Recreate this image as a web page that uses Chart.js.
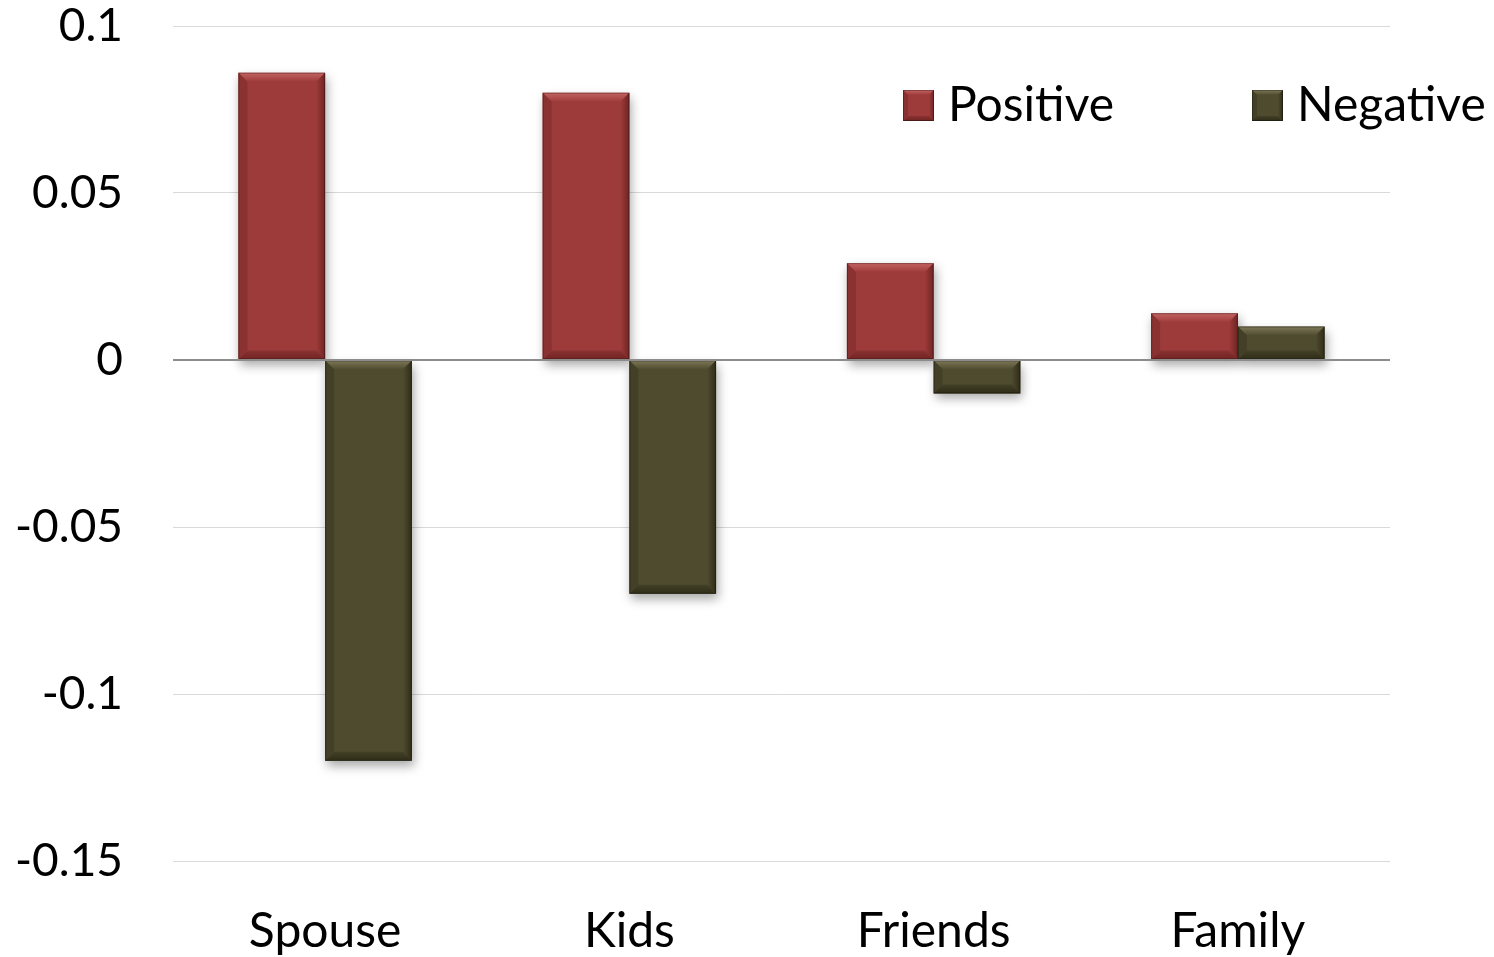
<!DOCTYPE html>
<html>
<head>
<meta charset="utf-8">
<script src="https://cdn.jsdelivr.net/npm/chart.js@4/dist/chart.umd.min.js"></script>
<style>
  html, body { margin: 0; padding: 0; background: #fff; }
  #wrap { width: 1494px; height: 957px; }
</style>
</head>
<body>
<div id="wrap"><canvas id="c" width="1494" height="957"></canvas></div>
<script>
const categories = ['Spouse', 'Kids', 'Friends', 'Family'];
const positiveValues = [0.086, 0.080, 0.029, 0.014];
const negativeValues = [-0.120, -0.070, -0.010, 0.010];
const yTickValues = [-0.15, -0.1, -0.05, 0, 0.05, 0.1];
const yTickLabels = ['-0.15', '-0.1', '-0.05', '0', '0.05', '0.1'];

const FONT = 'Lato, "Open Sans", sans-serif';
const palette = {
  Positive: { base: '#9d3b3a', light: '#c46462', dark: '#6f2423', side: '#8a3231' },
  Negative: { base: '#4f4b2f', light: '#7d7857', dark: '#2f2c18', side: '#434027' }
};

// Bevelled bar look: a raised top edge, darker sides and bottom.
function bevelRect(ctx, l, t, r, b, pal, bw) {
  const w = r - l, h = b - t;
  const e = Math.min(bw, w / 2, h / 2);
  ctx.save();
  const gTop = ctx.createLinearGradient(0, t, 0, t + e);
  gTop.addColorStop(0, pal.light);
  gTop.addColorStop(1, pal.base);
  ctx.beginPath();
  ctx.moveTo(l, t); ctx.lineTo(r, t); ctx.lineTo(r - e, t + e); ctx.lineTo(l + e, t + e); ctx.closePath();
  ctx.fillStyle = gTop; ctx.fill();
  ctx.beginPath();
  ctx.moveTo(l, t); ctx.lineTo(l + e, t + e); ctx.lineTo(l + e, b - e); ctx.lineTo(l, b); ctx.closePath();
  ctx.fillStyle = pal.side; ctx.fill();
  const gRight = ctx.createLinearGradient(r - e, 0, r, 0);
  gRight.addColorStop(0, pal.base);
  gRight.addColorStop(1, pal.dark);
  ctx.beginPath();
  ctx.moveTo(r, t); ctx.lineTo(r - e, t + e); ctx.lineTo(r - e, b - e); ctx.lineTo(r, b); ctx.closePath();
  ctx.fillStyle = gRight; ctx.fill();
  const gBot = ctx.createLinearGradient(0, b - e, 0, b);
  gBot.addColorStop(0, pal.side);
  gBot.addColorStop(1, pal.dark);
  ctx.beginPath();
  ctx.moveTo(l, b); ctx.lineTo(l + e, b - e); ctx.lineTo(r - e, b - e); ctx.lineTo(r, b); ctx.closePath();
  ctx.fillStyle = gBot; ctx.fill();
  ctx.strokeStyle = 'rgba(0,0,0,0.3)';
  ctx.lineWidth = 1;
  ctx.strokeRect(l + 0.5, t + 0.5, w - 1, h - 1);
  ctx.restore();
}

function barBox(el) {
  const half = el.width / 2;
  return {
    l: el.x - half, r: el.x + half,
    t: Math.min(el.y, el.base), b: Math.max(el.y, el.base)
  };
}

const bevelPlugin = {
  id: 'bevel',
  beforeDatasetsDraw(chart) {
    const ctx = chart.ctx;
    ctx.save();
    ctx.shadowColor = 'rgba(0,0,0,0.35)';
    ctx.shadowBlur = 10;
    ctx.shadowOffsetX = 2;
    ctx.shadowOffsetY = 5;
    chart.data.datasets.forEach((ds, i) => {
      chart.getDatasetMeta(i).data.forEach(el => {
        const bx = barBox(el);
        ctx.fillStyle = '#ffffff';
        ctx.fillRect(bx.l, bx.t, bx.r - bx.l, bx.b - bx.t);
      });
    });
    ctx.restore();
  },
  afterDatasetsDraw(chart) {
    const ctx = chart.ctx;
    chart.data.datasets.forEach((ds, i) => {
      const pal = palette[ds.label];
      chart.getDatasetMeta(i).data.forEach(el => {
        const bx = barBox(el);
        bevelRect(ctx, bx.l, bx.t, bx.r, bx.b, pal, 9);
      });
    });
    // zero line drawn over the bar bases
    const y0 = chart.scales.y.getPixelForValue(0);
    ctx.save();
    ctx.strokeStyle = '#8c8c8c';
    ctx.lineWidth = 2;
    ctx.beginPath();
    ctx.moveTo(chart.chartArea.left, y0);
    ctx.lineTo(chart.chartArea.right, y0);
    ctx.stroke();
    ctx.restore();
  },
  afterDraw(chart) {
    // legend in the upper right of the plot
    const ctx = chart.ctx;
    const items = [
      { x: 903, ds: chart.data.datasets[0] },
      { x: 1252, ds: chart.data.datasets[1] }
    ];
    const yTop = 90, size = 31;
    ctx.save();
    items.forEach(it => {
      const pal = palette[it.ds.label];
      ctx.fillStyle = pal.base;
      ctx.fillRect(it.x, yTop, size, size);
      bevelRect(ctx, it.x, yTop, it.x + size, yTop + size, pal, 5);
      ctx.fillStyle = '#000';
      ctx.font = '48px ' + FONT;
      ctx.textBaseline = 'alphabetic';
      ctx.textAlign = 'left';
      ctx.fillText(it.ds.label, it.x + size + 14, yTop + size);
    });
    ctx.restore();
  }
};

new Chart(document.getElementById('c'), {
  type: 'bar',
  data: {
    labels: categories,
    datasets: [
      { label: 'Positive', data: positiveValues, backgroundColor: palette.Positive.base, borderWidth: 0 },
      { label: 'Negative', data: negativeValues, backgroundColor: palette.Negative.base, borderWidth: 0 }
    ]
  },
  options: {
    responsive: false,
    animation: false,
    devicePixelRatio: 1,
    layout: { padding: { left: 0, right: 104, top: 0, bottom: 0 } },
    plugins: { legend: { display: false }, tooltip: { enabled: false } },
    datasets: { bar: { categoryPercentage: 0.57, barPercentage: 1.0 } },
    scales: {
      x: {
        grid: { display: false, drawTicks: false },
        border: { display: false },
        ticks: { color: '#000', font: { family: FONT, size: 48 }, padding: 42 },
        afterFit(scale) { scale.height = 96; }
      },
      y: {
        min: -0.15,
        max: 0.1,
        afterBuildTicks(scale) { scale.ticks = yTickValues.map(v => ({ value: v })); },
        grid: { color: '#d9d9d9', lineWidth: 1, drawTicks: false },
        border: { display: false },
        ticks: {
          color: '#000',
          font: { family: FONT, size: 46 },
          padding: 50,
          callback(value) {
            const i = yTickValues.findIndex(v => Math.abs(v - value) < 1e-9);
            return i >= 0 ? yTickLabels[i] : '';
          }
        },
        afterFit(scale) {
          scale.width = 173;
          scale.paddingTop = 26;
          scale.paddingBottom = 30;
        }
      }
    }
  },
  plugins: [bevelPlugin]
});
</script>
</body>
</html>
